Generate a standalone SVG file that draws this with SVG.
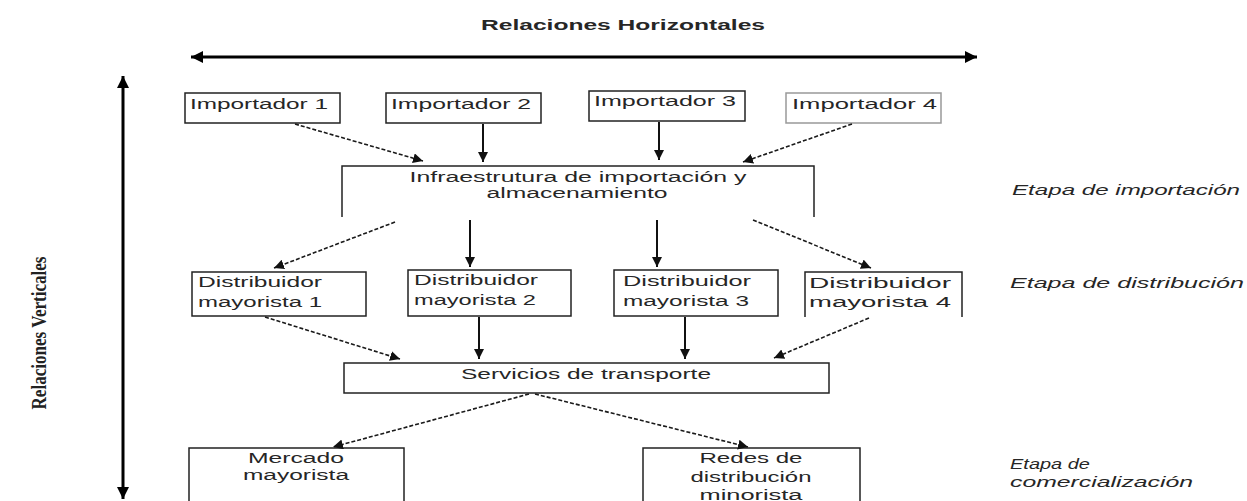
<svg xmlns="http://www.w3.org/2000/svg" width="1247" height="501" viewBox="0 0 1247 501">
<defs>
<style>
.box{fill:#fff;stroke:#222;stroke-width:1.5}
.open{fill:none;stroke:#222;stroke-width:1.5}
.t{font-family:"Liberation Sans",Arial,sans-serif;font-size:14px;fill:#262626}
.it{font-style:italic}
.v{stroke:#111;stroke-width:2;fill:none;marker-end:url(#ah)}
.d{stroke:#1a1a1a;stroke-width:1.6;fill:none;stroke-dasharray:4 2;marker-end:url(#ah)}
.axis{stroke:#000;stroke-width:3;fill:none;marker-start:url(#big);marker-end:url(#big)}
</style>
<marker id="ah" markerUnits="userSpaceOnUse" markerWidth="12" markerHeight="10" refX="10" refY="5" orient="auto"><path d="M0,0 L10,5 L0,10 z" fill="#111"/></marker>
<marker id="big" markerUnits="userSpaceOnUse" markerWidth="14" markerHeight="12" refX="12" refY="6" orient="auto-start-reverse"><path d="M0,0 L12,6 L0,12 z" fill="#000"/></marker>
</defs>
<rect x="0" y="0" width="1247" height="501" fill="#fff"/>

<g id="axes">
<line class="axis" x1="191" y1="57" x2="977" y2="57"/>
<line class="axis" x1="123" y1="76" x2="123" y2="499"/>
<text class="t" x="481" y="30" font-weight="bold" font-size="14" textLength="284" lengthAdjust="spacingAndGlyphs">Relaciones Horizontales</text>
<text transform="translate(46,333) rotate(-90)" text-anchor="middle" font-family="'Liberation Serif',serif" font-weight="bold" font-size="20" fill="#222" textLength="153" lengthAdjust="spacingAndGlyphs">Relaciones Verticales</text>
</g>

<g id="imp1"><rect class="box" x="185" y="93" width="155" height="30"/><text class="t" x="190" y="109" textLength="138" lengthAdjust="spacingAndGlyphs">Importador 1</text></g>
<g id="imp2"><rect class="box" x="386" y="93" width="155" height="30"/><text class="t" x="391" y="109" textLength="140" lengthAdjust="spacingAndGlyphs">Importador 2</text></g>
<g id="imp3"><rect class="box" x="589" y="91" width="156" height="30"/><text class="t" x="594" y="106" textLength="142" lengthAdjust="spacingAndGlyphs">Importador 3</text></g>
<g id="imp4"><rect class="box" x="786" y="93" width="155" height="30" style="stroke:#999"/><text class="t" x="792" y="109" textLength="145" lengthAdjust="spacingAndGlyphs">Importador 4</text></g>

<g id="infra"><path class="open" d="M342,217 V166 H814 V217"/>
<text class="t" x="578" y="182" text-anchor="middle" textLength="337" lengthAdjust="spacingAndGlyphs">Infraestrutura de importación y</text>
<text class="t" x="577" y="198" text-anchor="middle" textLength="181" lengthAdjust="spacingAndGlyphs">almacenamiento</text></g>

<g id="dist1"><rect class="box" x="192" y="272" width="174" height="44"/><text class="t" x="198" y="287" textLength="124" lengthAdjust="spacingAndGlyphs">Distribuidor</text><text class="t" x="198" y="307" textLength="124" lengthAdjust="spacingAndGlyphs">mayorista 1</text></g>
<g id="dist2"><rect class="box" x="408" y="270" width="163" height="46"/><text class="t" x="414" y="285" textLength="124" lengthAdjust="spacingAndGlyphs">Distribuidor</text><text class="t" x="414" y="305" textLength="122" lengthAdjust="spacingAndGlyphs">mayorista 2</text></g>
<g id="dist3"><rect class="box" x="614" y="270" width="164" height="46"/><text class="t" x="623" y="286" textLength="128" lengthAdjust="spacingAndGlyphs">Distribuidor</text><text class="t" x="623" y="306" textLength="126" lengthAdjust="spacingAndGlyphs">mayorista 3</text></g>
<g id="dist4"><path class="open" d="M805,317 V272 H962 V317"/><text class="t" x="809" y="288" textLength="142" lengthAdjust="spacingAndGlyphs">Distribuidor</text><text class="t" x="809" y="307" textLength="142" lengthAdjust="spacingAndGlyphs">mayorista 4</text></g>

<g id="transporte"><rect class="box" x="344" y="363" width="485" height="30"/><text class="t" x="586" y="379" text-anchor="middle" textLength="250" lengthAdjust="spacingAndGlyphs">Servicios de transporte</text></g>

<g id="mercado"><rect class="box" x="189" y="448" width="215" height="60"/><text class="t" x="296" y="463" text-anchor="middle" textLength="96" lengthAdjust="spacingAndGlyphs">Mercado</text><text class="t" x="296" y="480" text-anchor="middle" textLength="106" lengthAdjust="spacingAndGlyphs">mayorista</text></g>
<g id="redes"><rect class="box" x="643" y="448" width="217" height="60"/><text class="t" x="751" y="463" text-anchor="middle" textLength="103" lengthAdjust="spacingAndGlyphs">Redes de</text><text class="t" x="751" y="482" text-anchor="middle" textLength="121" lengthAdjust="spacingAndGlyphs">distribución</text><text class="t" x="751" y="500" text-anchor="middle" textLength="103" lengthAdjust="spacingAndGlyphs">minorista</text></g>

<g id="etapas">
<text class="t it" x="1012" y="195" textLength="228" lengthAdjust="spacingAndGlyphs">Etapa de importación</text>
<text class="t it" x="1010" y="288" textLength="234" lengthAdjust="spacingAndGlyphs">Etapa de distribución</text>
<text class="t it" x="1010" y="469" textLength="80" lengthAdjust="spacingAndGlyphs">Etapa de</text>
<text class="t it" x="1010" y="487" textLength="183" lengthAdjust="spacingAndGlyphs">comercialización</text>
</g>

<g id="connectors">
<path class="d" d="M295,124 L423,161"/>
<path class="v" d="M483,124 V162"/>
<path class="v" d="M659,122 V160"/>
<path class="d" d="M852,124 L743,162"/>
<path class="d" d="M395,222 L274,268"/>
<path class="v" d="M470,220 V267"/>
<path class="v" d="M657,220 V267"/>
<path class="d" d="M753,220 L871,268"/>
<path class="d" d="M265,317 L400,359"/>
<path class="v" d="M479,317 V359"/>
<path class="v" d="M685,317 V359"/>
<path class="d" d="M869,318 L774,358"/>
<path class="d" d="M529,394 L333,447"/>
<path class="d" d="M535,394 L748,447"/>
</g>
</svg>
